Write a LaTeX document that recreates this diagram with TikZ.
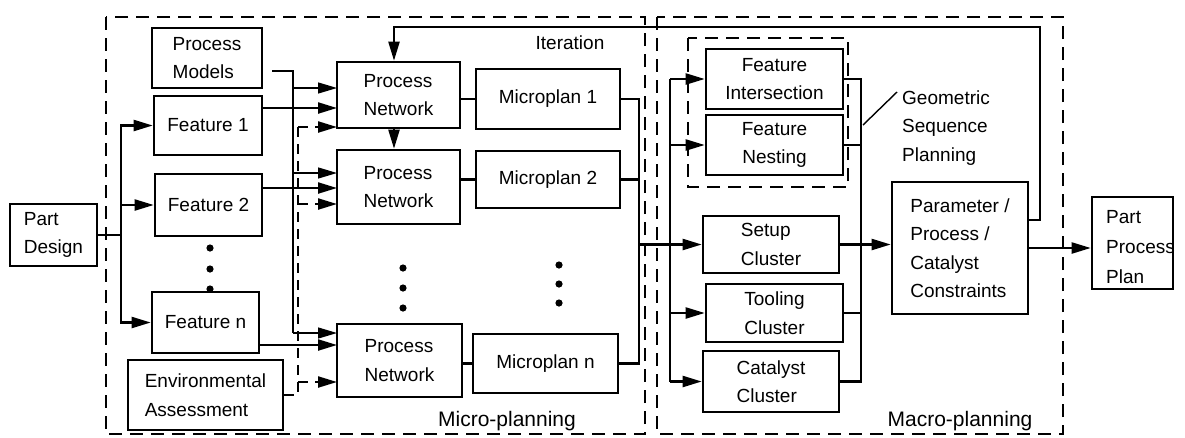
\documentclass[tikz,border=0pt]{standalone}
\usepackage{fontspec}
\setmainfont{Liberation Sans}
\usetikzlibrary{arrows.meta}
% box from its corners (x1,y1) and (x2,y2)
\newcommand\blk[7][]{\node[box, #1, minimum width={(#5)-(#3)}, minimum height={(#6)-(#4)}]
  (#2) at ({((#3)+(#5))/2},{((#4)+(#6))/2}) {#7};}
\begin{document}
\begin{tikzpicture}[x=1pt,y=-1pt,
  box/.style={draw, line width=2.6pt, inner sep=0pt, align=left,
              font=\fontsize{19}{28.5}\selectfont},
  txt/.style={inner sep=0pt, align=left, font=\fontsize{19}{28.5}\selectfont},
  conn/.style={line width=2.2pt},
  thinconn/.style={line width=1.3pt},
  tip/.style={-{Triangle[length=19pt,width=11pt]}},
  arr/.style={conn, tip},
  thinarr/.style={thinconn, tip},
  dashline/.style={line width=2.2pt, dash pattern=on 10pt off 7pt},
  dasharr/.style={dashline, tip},
  region/.style={line width=2.6pt, dash pattern=on 13pt off 8pt},
  dot/.style={fill=black}]
\useasboundingbox (0,0) rectangle (1185,437);

% planning regions
\draw[region] (106,17) rectangle (645,434);
\draw[region] (657,17) rectangle (1063,434);
\draw[region] (688,38) rectangle (848,187);

% boxes
\blk{PD}{10}{204}{97}{266}{Part\\Design}
\blk{PM}{152}{28}{262}{88}{Process\\Models}
\blk{F1}{154}{96}{262}{155}{Feature 1}
\blk{F2}{155}{174}{262}{236}{Feature 2}
\blk{Fn}{152}{292}{259}{353}{Feature n}
\blk{EA}{128}{360}{283}{430}{Environmental\\Assessment}
\blk{PN1}{337}{62}{460}{128}{Process\\Network}
\blk{PN2}{337}{150}{460}{224}{Process\\Network}
\blk{PNn}{337}{324}{462}{397}{Process\\Network}
\blk{MP1}{476}{69}{620}{129}{Microplan 1}
\blk{MP2}{476}{151}{620}{208}{Microplan 2}
\blk{MPn}{473}{334}{618}{393}{Microplan n}
\blk[align=center]{FI}{706}{49}{843}{109}{Feature\\Intersection}
\blk[align=center]{FN}{706}{115}{843}{175}{Feature\\Nesting}
\blk{SC}{703}{216}{839}{273}{Setup\\Cluster}
\blk{TC}{706}{284}{843}{342}{Tooling\\Cluster}
\blk{CC}{703}{351}{839}{412}{Catalyst\\Cluster}
\blk{PPC}{892}{182}{1028}{314}{Parameter /\\Process /\\Catalyst\\Constraints}
\blk{PPP}{1092}{197}{1173}{289}{}
\node[txt, anchor=west, font=\fontsize{19}{30}\selectfont] (PPPtext) at (1106,247) {Part\\Process\\Plan};

% labels
\node[txt] (iterlbl) at (570,43) {Iteration};
\node[txt, font=\fontsize{21}{24}\selectfont] (microlbl) at (507,421) {Micro-planning};
\node[txt, font=\fontsize{21}{24}\selectfont] (macrolbl) at (960,421) {Macro-planning};
\node[txt, anchor=west] (GSP) at (902,128) {Geometric\\Sequence\\Planning};

% ellipsis dots
\foreach \yy in {248,269,289} \fill[dot] (210,\yy) circle (3.6pt);
\foreach \yy in {268,288,308} \fill[dot] (403,\yy) circle (3.6pt);
\foreach \yy in {265,284,303} \fill[dot] (559,\yy) circle (3.6pt);

% input points on the process networks
\coordinate (a1) at (337,88);  \coordinate (b1) at (337,108); \coordinate (c1) at (337,127);
\coordinate (a2) at (337,173); \coordinate (b2) at (337,188); \coordinate (c2) at (337,204);
\coordinate (an) at (337,333); \coordinate (bn) at (337,345); \coordinate (cn) at (337,382);

% part design to features
\draw[arr] (PD.east) -- ++(23,0) |- (F1.west);
\draw[arr] (PD.east) ++(23,0) |- (F2.west);
\draw[arr] (PD.east) -- ++(23,0) |- (Fn.west);

% features to process networks
\draw[arr] (F1.east |- b1) -- (b1);
\draw[arr] (F2.east |- b2) -- (b2);
\draw[arr] (Fn.east |- bn) -- (bn);

% process models feed
\coordinate (pmout) at (272,71);
\coordinate (pmbus) at (293,71);
\draw[thinconn] (pmout) -- (pmbus) -- (pmbus |- an);
\draw[thinarr] (pmbus |- a1) -- (a1);
\draw[thinarr] (pmbus |- a2) -- (a2);
\draw[thinarr] (pmbus |- an) -- (an);

% environmental assessment feed
\coordinate (eabus) at (298,395);
\draw[dashline] (EA.east) -- (eabus) -- (eabus |- c1);
\draw[dasharr] (eabus |- c1) -- (c1);
\draw[dasharr] (eabus |- c2) -- (c2);
\draw[dasharr] (eabus |- cn) -- (cn);

% network chain and microplans
\draw[arr] ([xshift=-4.5pt]PN1.south) -- ([xshift=-4.5pt]PN2.north);
\draw[conn] (PN1.east |- MP1.west) -- (MP1.west);
\draw[conn] (PN2.east |- MP2.west) -- (MP2.west);
\draw[conn] (PNn.east |- MPn.west) -- (MPn.west);

% microplans to macro-planning
\coordinate (mbus) at (639,0);
\draw[conn] (MP1.east) -- (MP1.east -| mbus) -- (MPn.east -| mbus) -- (MPn.east);
\draw[conn] (MP2.east) -- (MP2.east -| mbus);
\coordinate (cbus) at (670,0);
\draw[arr] (SC.west -| mbus) -- (SC.west);
\draw[conn] (FI.west -| cbus) -- (CC.west -| cbus);
\draw[arr] (FI.west -| cbus) -- (FI.west);
\draw[arr] (FN.west -| cbus) -- (FN.west);
\draw[arr] (TC.west -| cbus) -- (TC.west);
\draw[arr] (CC.west -| cbus) -- (CC.west);

% clusters to constraints
\coordinate (rbus) at (861,0);
\draw[conn] (FI.east) -- (FI.east -| rbus) -- (CC.east -| rbus) -- (CC.east);
\draw[conn] (FN.east) -- (FN.east -| rbus);
\draw[conn] (TC.east) -- (TC.east -| rbus);
\draw[arr] (SC.east) -- (SC.east -| PPC.west);

% leader to the geometric sequence planning note
\coordinate (gspfoot) at (863,125);
\coordinate (gsphead) at (897,92);
\draw[line width=1.4pt] (gspfoot) -- (gsphead);

% output and iteration loop
\draw[arr] (PPC.east) -- (PPC.east -| PPP.west);
\coordinate (iterR) at (1040,27);
\draw[arr] ([yshift=28pt]PPC.east) -| (iterR) -| ([xshift=-4.5pt]PN1.north);
\end{tikzpicture}
\end{document}
